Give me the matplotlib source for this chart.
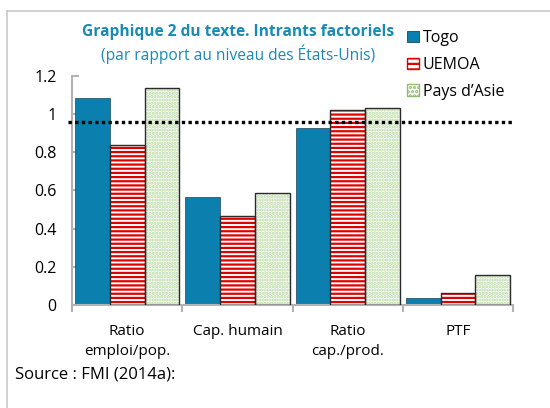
import matplotlib
matplotlib.use("Agg")
import matplotlib.pyplot as plt
import numpy as np

plt.rcParams['font.family'] = ['Open Sans', 'DejaVu Sans']
plt.rcParams['hatch.linewidth'] = 1.6

categories = ["Ratio\nemploi/pop.", "Cap. humain", "Ratio\ncap./prod.", "PTF"]
togo = [1.085, 0.565, 0.93, 0.035]
uemoa = [0.84, 0.468, 1.022, 0.063]
asie = [1.139, 0.589, 1.031, 0.157]
ref_line = 0.96
y_ticks = [0, 0.2, 0.4, 0.6, 0.8, 1, 1.2]
y_labels = ["0", "0.2", "0.4", "0.6", "0.8", "1", "1.2"]

fig = plt.figure(figsize=(5.5, 4.08), dpi=100)
ax = fig.add_axes([0.131, 0.2525, 0.802, 0.5612])

x = np.arange(len(categories))
w = 0.315
edge = "#2b2b2b"

ax.bar(x - w, togo, w, color="#0b7fad", edgecolor="#1d4457", linewidth=0.5, zorder=2)
# striped bars: hatch first, outline on top
ax.bar(x, uemoa, w, color="white", edgecolor="#e00000", hatch="----", linewidth=0, zorder=2)
ax.bar(x, uemoa, w, fill=False, edgecolor=edge, linewidth=1.0, zorder=3)
ax.bar(x + w, asie, w, color="white", edgecolor="#b5d99c", hatch=".....", linewidth=0, zorder=2)
ax.bar(x + w, asie, w, fill=False, edgecolor=edge, linewidth=1.0, zorder=3)

ax.axhline(ref_line, xmin=-0.01, xmax=1.0, color="black", linestyle=(0, (1, 1)),
           linewidth=2.4, clip_on=False, zorder=4)

ax.set_xlim(-0.5, 3.5)
ax.set_ylim(0, 1.2)
ax.set_yticks(y_ticks)
ax.set_yticklabels(y_labels, fontsize=11.5)
ax.set_xticks(x)
ax.set_xticklabels(categories, fontsize=11, linespacing=1.45, va="top")
ax.set_xticks(np.arange(-0.5, 4.0, 1.0), minor=True)
ax.tick_params(axis="x", which="major", length=0, pad=14)
ax.tick_params(axis="x", which="minor", length=5, width=1.5, color="#b3b3b3", direction="out")
ax.tick_params(axis="y", length=5, width=1.5, color="#b3b3b3", direction="in", pad=11)

for s in ["top", "right"]:
    ax.spines[s].set_visible(False)
for s in ["left", "bottom"]:
    ax.spines[s].set_color("#b3b3b3")
    ax.spines[s].set_linewidth(1.5)

title_color = "#1a8ab4"
fig.text(0.433, 0.922, "Graphique 2 du texte. Intrants factoriels", ha="center", va="center",
         fontsize=11.2, fontweight="bold", color=title_color)
fig.text(0.433, 0.866, "(par rapport au niveau des États-Unis)", ha="center", va="center",
         fontsize=11.2, color=title_color)

# legend
handles = [
    plt.Rectangle((0, 0), 1, 1, facecolor="#0b7fad", edgecolor="#1d4457", linewidth=0.6),
    plt.Rectangle((0, 0), 1, 1, facecolor="white", edgecolor="#e00000", hatch="---"),
    plt.Rectangle((0, 0), 1, 1, facecolor="white", edgecolor="#8fbf6e", hatch="...."),
]
leg = fig.legend(handles, ["Togo", "UEMOA", "Pays d’Asie"], loc="upper left",
                 bbox_to_anchor=(0.74, 0.926), frameon=False, fontsize=11.5,
                 handlelength=0.75, handleheight=0.75, handletextpad=0.25, labelspacing=0.68,
                 borderaxespad=0, borderpad=0)

fig.text(0.027, 0.081, "Source : FMI (2014a):", ha="left", va="center", fontsize=12)

# outer frame: top and left lines only
fig.add_artist(plt.Line2D([0.013, 1.0], [0.973, 0.973], color="#c8c8c8", linewidth=1.2))
fig.add_artist(plt.Line2D([0.013, 0.013], [0.0, 0.973], color="#c8c8c8", linewidth=1.2))

fig.savefig("out.png", dpi=100)
